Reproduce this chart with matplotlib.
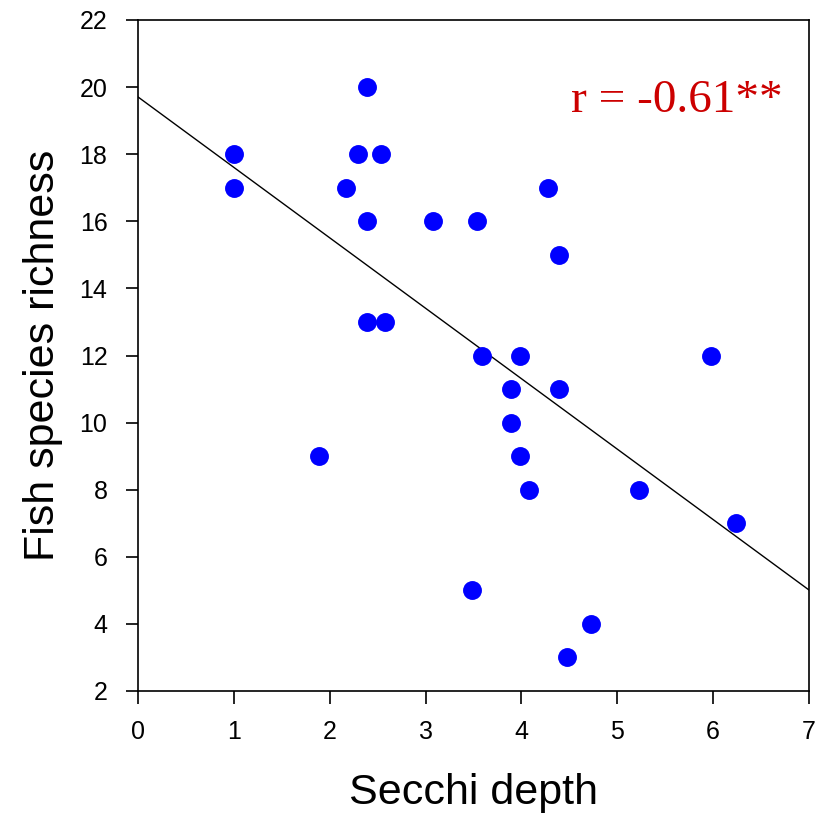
import matplotlib.pyplot as plt
import numpy as np

plt.rcParams["font.family"] = "Liberation Sans"

# Secchi depth (m) and fish species richness per site
secchi = [1.0, 1.0, 1.89, 2.17, 2.29, 2.39, 2.39, 2.39, 2.53, 2.58, 3.08, 3.54,
          3.48, 3.59, 3.89, 3.89, 3.98, 3.99, 4.08, 4.28, 4.39, 4.39, 4.48, 4.73,
          5.23, 5.98, 6.24]
richness = [18, 17, 9, 17, 18, 20, 16, 13, 18, 13, 16, 16,
            5, 12, 11, 10, 12, 9, 8, 17, 15, 11, 3, 4,
            8, 12, 7]
r_label = "r = -0.61**"

x = np.array(secchi)
y = np.array(richness)
slope, intercept = np.polyfit(x, y, 1)

fig = plt.figure(figsize=(8.26, 8.17), dpi=100)
ax = fig.add_axes([138 / 826, 1 - 691 / 817, 671 / 826, 671 / 817])

xs = np.array([0, 7])
ax.plot(xs, intercept + slope * xs, color="black", linewidth=1)
ax.scatter(x, y, s=185, color="#0000ff", zorder=3, linewidths=0)

ax.set_xlim(0, 7)
ax.set_ylim(2, 22)
ax.set_xticks(range(0, 8))
ax.set_yticks(range(2, 23, 2))
ax.tick_params(axis="x", direction="out", length=9, width=1.2, labelsize=18, pad=12)
ax.tick_params(axis="y", direction="out", length=9, width=1.2, labelsize=18, pad=13)
for sp in ax.spines.values():
    sp.set_linewidth(1.2)

ax.set_xlabel("Secchi depth", fontsize=31, labelpad=21)
ax.set_ylabel("Fish species richness", fontsize=31, labelpad=12)

ax.text(0.96, 0.863, r_label, transform=ax.transAxes, ha="right", va="baseline",
        fontsize=34, family="Liberation Serif", color="#cc0000")

fig.savefig("out.png", dpi=100)
